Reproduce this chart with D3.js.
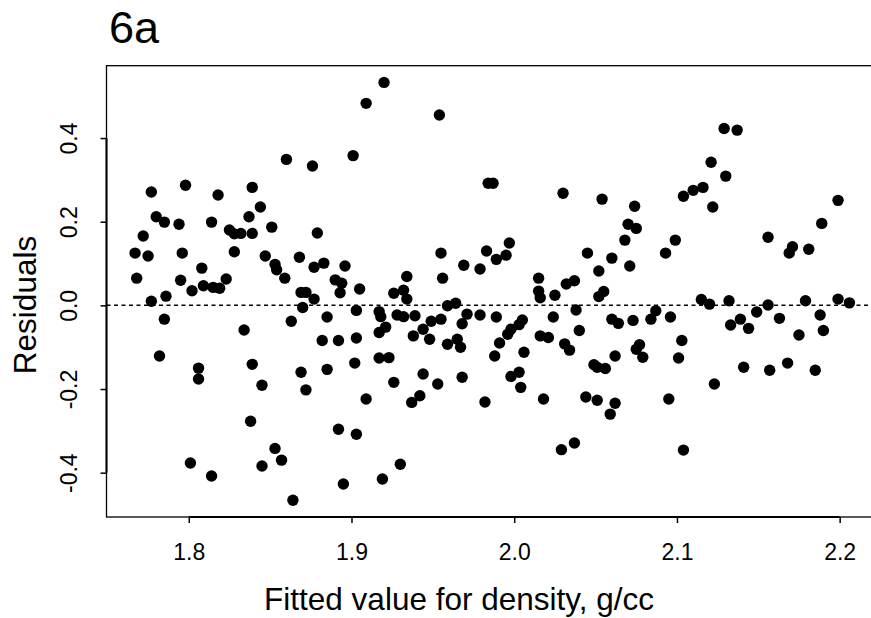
<!DOCTYPE html>
<html>
<head>
<meta charset="utf-8">
<script src="https://cdn.jsdelivr.net/npm/d3@7/dist/d3.min.js"></script>
<style>
  html, body { margin: 0; padding: 0; background: #fff; }
  svg { display: block; font-family: "Liberation Sans", Arial, Helvetica, sans-serif; }
</style>
</head>
<body>
<svg id="chart" width="871" height="618"></svg>
<script>
// Fitted density (g/cc) and residuals of the regression model
const fitted = [
  1.777, 1.798, 1.860, 1.839, 1.818, 1.780, 1.785, 1.794, 1.814, 1.837,
  1.844, 1.851, 1.772, 1.825, 1.828, 1.832, 1.839, 1.767, 1.775, 1.796,
  1.828, 1.847, 1.853, 1.854, 1.859, 1.768, 1.795, 1.808, 1.802, 1.809,
  1.815, 1.819, 1.823, 1.777, 1.786,
  1.920, 1.909, 1.954, 1.876, 1.901, 1.879, 1.868, 1.877, 1.883, 1.896,
  1.955, 1.969, 1.890, 1.894, 1.893, 1.905, 1.934, 1.956, 1.869, 1.872,
  1.877, 1.926, 1.932, 1.934, 1.959, 1.964,
  1.984, 1.987, 2.030, 2.054, 2.074, 2.070, 2.075, 2.068, 1.997, 1.983,
  1.989, 1.995, 1.979, 2.045, 2.060, 2.071, 2.052, 2.015, 2.015, 2.016,
  2.025, 2.032, 2.037, 2.052, 2.055, 2.038,
  2.129, 2.137, 2.121, 2.130, 2.104, 2.110, 2.116, 2.122, 2.093, 2.099,
  2.156, 2.169, 2.171, 2.181, 2.189, 2.199, 2.115, 2.120, 2.132, 2.156,
  2.179, 2.199, 2.206, 2.087, 2.149,
  1.785, 1.782, 1.834, 1.863, 1.806, 1.806, 1.839, 1.845, 1.838, 1.853,
  1.857, 1.845, 1.801, 1.814, 1.864,
  1.870, 1.885, 1.903, 1.917, 1.918, 1.928, 1.932, 1.939, 1.971, 1.968,
  1.949, 1.955, 1.944, 1.921, 1.917, 1.938, 1.948, 1.959, 1.965, 1.967,
  1.882, 1.892, 1.903, 1.869, 1.885, 1.902, 1.917, 1.923, 1.926, 1.944,
  1.953, 1.968, 1.872, 1.909, 1.937, 1.942, 1.892, 1.903, 1.930, 1.919,
  1.895,
  1.979, 1.989, 2.024, 2.005, 2.003, 1.998, 1.996, 1.991, 1.988, 2.006,
  2.016, 2.021, 2.040, 2.031, 2.034, 2.060, 2.064, 2.073, 2.084, 2.077,
  2.075, 2.079, 2.062, 2.049, 2.051, 2.056, 1.998, 2.003, 2.004, 1.982,
  2.018, 2.044, 2.051, 2.062, 2.059, 2.029, 2.037,
  2.096, 2.139, 2.133, 2.144, 2.163, 2.188, 2.190, 2.175, 2.103, 2.101,
  2.141, 2.157, 2.168, 2.185, 2.123, 2.095, 2.104
];

const residuals = [
  0.271, 0.287, 0.349, 0.282, 0.264, 0.212, 0.199, 0.194, 0.199, 0.212,
  0.235, 0.187, 0.166, 0.180, 0.171, 0.172, 0.172, 0.125, 0.118, 0.125,
  0.128, 0.118, 0.098, 0.085, 0.065, 0.065, 0.060, 0.089, 0.035, 0.047,
  0.043, 0.041, 0.063, 0.010, 0.022,
  0.533, 0.483, 0.455, 0.333, 0.358, 0.173, 0.115, 0.091, 0.101, 0.094,
  0.125, 0.096, 0.061, 0.053, 0.030, 0.039, 0.069, 0.065, 0.031, 0.031,
  0.015, 0.029, 0.036, 0.015, -0.001, 0.005,
  0.292, 0.292, 0.268, 0.254, 0.237, 0.194, 0.184, 0.156, 0.149, 0.130,
  0.110, 0.120, 0.087, 0.125, 0.113, 0.094, 0.082, 0.065, 0.034, 0.018,
  0.024, 0.051, 0.059, 0.021, 0.033, -0.011,
  0.423, 0.419, 0.342, 0.309, 0.261, 0.275, 0.282, 0.235, 0.125, 0.156,
  0.163, 0.125, 0.140, 0.134, 0.196, 0.251, 0.014, 0.003, 0.011, 0.001,
  0.011, 0.015, 0.006, -0.013, -0.016,
  -0.033, -0.121, -0.059, -0.038, -0.150, -0.176, -0.141, -0.191, -0.277, -0.342,
  -0.370, -0.384, -0.377, -0.408, -0.466,
  -0.005, -0.028, -0.012, -0.015, -0.027, -0.023, -0.027, -0.025, -0.021, -0.044,
  -0.038, -0.033, -0.057, -0.052, -0.065, -0.073, -0.081, -0.093, -0.081, -0.100,
  -0.084, -0.084, -0.078, -0.160, -0.153, -0.138, -0.126, -0.125, -0.184, -0.164,
  -0.188, -0.172, -0.202, -0.224, -0.232, -0.216, -0.296, -0.308, -0.380, -0.415,
  -0.427,
  -0.023, -0.028, -0.028, -0.035, -0.046, -0.057, -0.069, -0.090, -0.121, -0.112,
  -0.073, -0.077, -0.060, -0.092, -0.107, -0.033, -0.043, -0.036, -0.033, -0.094,
  -0.105, -0.124, -0.121, -0.142, -0.148, -0.151, -0.170, -0.160, -0.196, -0.231,
  -0.224, -0.219, -0.227, -0.234, -0.260, -0.345, -0.329,
  -0.028, -0.033, -0.047, -0.055, -0.031, -0.023, -0.060, -0.071, -0.084, -0.126,
  -0.148, -0.155, -0.138, -0.155, -0.188, -0.224, -0.346
];

const xTicks = [1.8, 1.9, 2.0, 2.1, 2.2];
const xTickLabels = ["1.8", "1.9", "2.0", "2.1", "2.2"];
const yTicks = [-0.4, -0.2, 0.0, 0.2, 0.4];
const yTickLabels = ["-0.4", "-0.2", "0.0", "0.2", "0.4"];

const titleText = "6a";
const xLabel = "Fitted value for density, g/cc";
const yLabel = "Residuals";

// Plot box (the right side runs past the edge of the canvas)
const box = { left: 106.5, right: 878, top: 65.7, bottom: 517 };

// Pad the data range by 4% on each side
function padded(values) {
  const [lo, hi] = d3.extent(values);
  const p = (hi - lo) * 0.04;
  return [lo - p, hi + p];
}

const x = d3.scaleLinear().domain(padded(fitted)).range([box.left, box.right]);
const y = d3.scaleLinear().domain(padded(residuals)).range([box.bottom, box.top]);

const svg = d3.select("#chart");
const points = fitted.map((f, i) => ({ f, r: residuals[i] }));

// Frame
svg.append("rect")
  .attr("x", box.left).attr("y", box.top)
  .attr("width", box.right - box.left).attr("height", box.bottom - box.top)
  .attr("fill", "none").attr("stroke", "#000").attr("stroke-width", 1.3);

// Zero reference line
svg.append("line")
  .attr("x1", box.left).attr("x2", box.right)
  .attr("y1", y(0)).attr("y2", y(0))
  .attr("stroke", "#000").attr("stroke-width", 1.5)
  .attr("stroke-dasharray", "4,3.5");

// Points
svg.append("g").selectAll("circle")
  .data(points).join("circle")
  .attr("cx", d => x(d.f)).attr("cy", d => y(d.r))
  .attr("r", 5.7).attr("fill", "#000");

// Bottom axis
const xAxis = svg.append("g")
  .attr("transform", `translate(0,${box.bottom})`)
  .call(d3.axisBottom(x).tickValues(xTicks)
    .tickFormat((d, i) => xTickLabels[i]).tickSize(6).tickSizeOuter(0));
xAxis.select(".domain").remove();
xAxis.append("line")
  .attr("x1", x(xTicks[0])).attr("x2", x(xTicks[xTicks.length - 1]))
  .attr("stroke", "#000").attr("stroke-width", 2);
xAxis.selectAll(".tick line").attr("stroke-width", 1.5);
xAxis.selectAll(".tick text")
  .attr("y", 43).attr("dy", 0)
  .attr("font-size", 23).attr("fill", "#000")
  .attr("font-family", "Liberation Sans, Arial, sans-serif");

// Left axis with labels turned parallel to the axis
const yAxis = svg.append("g")
  .attr("transform", `translate(${box.left},0)`)
  .call(d3.axisLeft(y).tickValues(yTicks)
    .tickFormat((d, i) => yTickLabels[i]).tickSize(6).tickSizeOuter(0));
yAxis.select(".domain").remove();
yAxis.append("line")
  .attr("y1", y(yTicks[0])).attr("y2", y(yTicks[yTicks.length - 1]))
  .attr("stroke", "#000").attr("stroke-width", 2);
yAxis.selectAll(".tick line").attr("stroke-width", 1.5);
yAxis.selectAll(".tick text")
  .attr("transform", "rotate(-90)")
  .attr("x", 0).attr("y", -29.5).attr("dy", 0)
  .attr("text-anchor", "middle")
  .attr("font-size", 23).attr("fill", "#000")
  .attr("font-family", "Liberation Sans, Arial, sans-serif");

// Titles
svg.append("text")
  .attr("x", 109).attr("y", 42.5)
  .attr("font-size", 45).attr("fill", "#000")
  .text(titleText);

svg.append("text")
  .attr("x", 459).attr("y", 610)
  .attr("text-anchor", "middle")
  .attr("font-size", 31.5).attr("fill", "#000")
  .text(xLabel);

svg.append("text")
  .attr("transform", "translate(36,305) rotate(-90)")
  .attr("text-anchor", "middle")
  .attr("font-size", 31.5).attr("fill", "#000")
  .text(yLabel);
</script>
</body>
</html>
